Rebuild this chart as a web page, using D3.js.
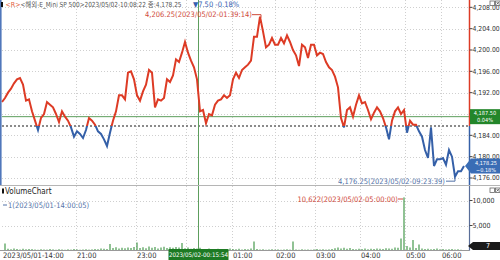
<!DOCTYPE html>
<html>
<head>
<meta charset="utf-8">
<script src="https://cdn.jsdelivr.net/npm/d3@7"></script>
<style>
  body { margin: 0; background: #fff; }
  svg { display: block; font-family: "Liberation Sans Narrow", "DejaVu Sans Condensed", "Noto Sans CJK KR", sans-serif; }
</style>
</head>
<body>
<svg id="chart" width="500" height="260"></svg>
<script>
// tick chart of E-mini S&P 500, one sample every few ticks
var prices = [
  4190.25, 4191, 4192, 4192.75, 4193.75, 4194.5, 4194.75, 4193.5, 4190.5, 4190.75,
  4188.5, 4186.75, 4185, 4187.25, 4188, 4190.25, 4189.75, 4189.25, 4188, 4186.5,
  4188.5, 4187.5, 4186.75, 4185.5, 4183.75, 4184.75, 4184.25, 4183.5, 4185, 4187.25,
  4186.75, 4186, 4184.75, 4184.25, 4183.25, 4182, 4184.5, 4186.75, 4188.5, 4191.5,
  4191.5, 4190.75, 4195.75, 4196, 4194.5, 4191.5, 4190.5, 4192.25, 4193.5, 4196.25,
  4195.75, 4189.25, 4190.75, 4190.5, 4191, 4194.5, 4194, 4195.25, 4198.25, 4197.75,
  4199.5, 4201.5, 4199.5, 4198, 4196.75, 4194.5, 4188.5, 4188.75, 4186.25, 4188,
  4187.75, 4189.75, 4190.5, 4190.75, 4191.5, 4191, 4191.5, 4194.5, 4195.75, 4194.75,
  4196.25, 4196.75, 4197.25, 4198, 4202.5, 4202.5, 4206.25, 4203.5, 4200.5, 4201,
  4202.25, 4201, 4201, 4202.25, 4201.25, 4202.75, 4201.5, 4200, 4199, 4197,
  4201, 4200.5, 4198.5, 4201, 4201, 4199, 4199.5, 4199.25, 4197.75, 4196.75,
  4196.25, 4195, 4193, 4187.25, 4185.5, 4188.75, 4189.25, 4187.5, 4189.75, 4191.5,
  4190, 4190.25, 4188.75, 4187, 4188.25, 4189.25, 4188.5, 4187.25, 4185.5, 4183.25,
  4186.75, 4188.5, 4189.25, 4188, 4188.75, 4184.5, 4186.75, 4186, 4186, 4184.75,
  4183.75, 4181.25, 4179.75, 4185.5, 4178.25, 4179.5, 4179.5, 4179.75, 4178.5, 4181.25,
  4180, 4176.25, 4177.25, 4177.25, 4178.25
];
var volumes = [
  1, 1400, 350, 250, 400, 300, 200, 350, 250, 300,
  280, 200, 150, 250, 200, 180, 300, 220, 150, 260,
  200, 150, 240, 180, 300, 220, 160, 200, 250, 180,
  220, 300, 260, 400, 350, 300, 1300, 500, 650, 400,
  550, 450, 600, 500, 700, 1600, 500, 650, 450, 800,
  550, 700, 400, 600, 750, 500, 650, 550, 700, 600,
  1500, 450, 600, 350, 500, 400, 550, 300, 250, 400,
  300, 200, 350, 250, 300, 200, 400, 300, 250, 350,
  200, 300, 250, 400, 1800, 300, 200, 250, 150, 200,
  250, 180, 220, 150, 200, 250, 180, 1800, 200, 150,
  250, 180, 200, 150, 220, 300, 200, 250, 180, 220,
  300, 450, 600, 400, 550, 350, 500, 300, 250, 350,
  300, 400, 250, 350, 300, 400, 350, 300, 450, 400,
  350, 600, 550, 2400, 10622, 900, 600, 2100, 500, 1200,
  400, 300, 350, 250, 300, 400, 250, 300, 200, 250,
  300, 200, 250, 150, 7
];
var priceTicks = [4208, 4204, 4200, 4196, 4192, 4188, 4184, 4180, 4176];
var volTicks = [10000, 5000];
var timeLabels = ["2023/05/01-14:00", "21:00", "23:00", "00:00", "01:00", "02:00", "03:00", "04:00", "05:00", "06:00"];
var timeIdx = [0, 24.67, 44.67, 61.33, 76.67, 91, 104.33, 119.33, 134.33, 146.33];
var refPrice = 4185.75;       // previous close
var crossIdx = 65.33, crossPrice = 4187.50, crossTime = "2023/05/02-00:15:54";
var maxLabel = "4,206.25(2023/05/02-01:39:14)";
var minLabel = "4,176.25(2023/05/02-09:23:39)";
var volMaxLabel = "10,622(2023/05/02-05:00:00)";
var volMinLabel = "1(2023/05/01-14:00:05)";

var red = "#dd3b25", blue = "#3560a8", green = "#5d9e5d", dkGreen = "#23862a";

var svg = d3.select("#chart");

var x = d3.scaleLinear().domain([0, prices.length - 1]).range([2, 464]);
var y = d3.scaleLinear().domain([4176, 4200]).range([178, 50]);
var yv = d3.scaleLinear().domain([0, 10000]).range([250.5, 200.5]);

var mainBot = 185, volBot = 250.5, axisX = 469.5;
var yRef = y(refPrice);
var yc = y(crossPrice);

// grid
var grid = svg.append("g").attr("stroke", "#cfcfcf").attr("stroke-dasharray", "1,2");
priceTicks.forEach(function (t) {
  grid.append("line").attr("x1", 2).attr("x2", axisX).attr("y1", Math.round(y(t)) + 0.5).attr("y2", Math.round(y(t)) + 0.5);
});
volTicks.forEach(function (t) {
  grid.append("line").attr("x1", 2).attr("x2", axisX).attr("y1", Math.round(yv(t)) + 0.5).attr("y2", Math.round(yv(t)) + 0.5);
});
timeIdx.slice(1).forEach(function (t) {
  var gx = Math.round(x(t)) + 0.5;
  grid.append("line").attr("x1", gx).attr("x2", gx).attr("y1", 0).attr("y2", volBot);
});

// reference line
svg.append("line").attr("x1", 2).attr("x2", axisX).attr("y1", yRef).attr("y2", yRef)
  .attr("stroke", "#666").attr("stroke-width", 1.3).attr("stroke-dasharray", "2,2");

// crosshair
svg.append("line").attr("x1", 2).attr("x2", axisX).attr("y1", yc).attr("y2", yc)
  .attr("stroke", green).attr("stroke-width", 1);
svg.append("line").attr("x1", Math.round(x(crossIdx)) + 0.5).attr("x2", Math.round(x(crossIdx)) + 0.5)
  .attr("y1", 0).attr("y2", volBot).attr("stroke", green).attr("stroke-width", 1);

// price line split at reference price
var defs = svg.append("defs");
defs.append("clipPath").attr("id", "clipUp").append("rect")
  .attr("x", 0).attr("y", 0).attr("width", axisX).attr("height", yRef);
defs.append("clipPath").attr("id", "clipDn").append("rect")
  .attr("x", 0).attr("y", yRef).attr("width", axisX).attr("height", mainBot - yRef);

var line = d3.line().x(function (d, i) { return x(i); }).y(function (d) { return y(d); });
[["clipUp", red], ["clipDn", blue]].forEach(function (c) {
  svg.append("path").datum(prices).attr("d", line)
    .attr("fill", "none").attr("stroke", c[1]).attr("stroke-width", 2)
    .attr("stroke-linejoin", "miter").attr("clip-path", "url(#" + c[0] + ")");
});

// volume bars
svg.append("g").selectAll("rect").data(volumes).enter().append("rect")
  .attr("x", function (d, i) { return x(i) - 0.5; })
  .attr("width", 1)
  .attr("y", function (d) { return yv(d); })
  .attr("height", function (d) { return volBot - yv(d); })
  .attr("fill", dkGreen);

// separators and axes
svg.append("line").attr("x1", 0).attr("x2", 500).attr("y1", mainBot + 0.5).attr("y2", mainBot + 0.5).attr("stroke", "#b5b5b5");
svg.append("line").attr("x1", 0).attr("x2", axisX).attr("y1", volBot).attr("y2", volBot).attr("stroke", "#999");
svg.append("line").attr("x1", 0.8).attr("x2", 0.8).attr("y1", 0).attr("y2", mainBot).attr("stroke", "#5077bb").attr("stroke-width", 1.6);
svg.append("line").attr("x1", axisX).attr("x2", axisX).attr("y1", 0).attr("y2", yRef).attr("stroke", red).attr("stroke-width", 1.5);
svg.append("line").attr("x1", axisX).attr("x2", axisX).attr("y1", yRef).attr("y2", mainBot).attr("stroke", blue).attr("stroke-width", 1.5);
svg.append("line").attr("x1", axisX).attr("x2", axisX).attr("y1", mainBot + 1).attr("y2", volBot).attr("stroke", "#5a6e98").attr("stroke-width", 1.2);

var fmt = d3.format(",.2f");
priceTicks.forEach(function (t) {
  svg.append("line").attr("x1", axisX).attr("x2", axisX + 3).attr("y1", y(t)).attr("y2", y(t)).attr("stroke", "#444");
  if (Math.abs(y(t) - yc) < 8) return;   // covered by the crosshair price box
  svg.append("text").attr("x", axisX + 3).attr("y", y(t)).attr("dy", "0.35em")
    .attr("font-size", 6.8).attr("fill", "#333").text(fmt(t));
});
volTicks.forEach(function (t) {
  svg.append("line").attr("x1", axisX).attr("x2", axisX + 3).attr("y1", yv(t)).attr("y2", yv(t)).attr("stroke", "#444");
  svg.append("text").attr("x", axisX + 3).attr("y", yv(t)).attr("dy", "0.35em")
    .attr("font-size", 7).attr("fill", "#333").text(d3.format(",")(t));
});

// time axis labels
timeLabels.forEach(function (l, i) {
  if (l === "00:00") return;   // hidden behind the crosshair box
  svg.append("text").attr("x", Math.round(x(timeIdx[i])) + 1).attr("y", 255).attr("dy", "0.35em")
    .attr("font-size", 7.5).attr("fill", "#333").text(l);
});

// crosshair time box
var cx = Math.round(x(crossIdx)) + 0.5;
svg.append("rect").attr("x", cx - 30).attr("y", 249).attr("width", 60).attr("height", 11).attr("fill", "#1d7a23");
svg.append("text").attr("x", cx).attr("y", 255).attr("dy", "0.35em").attr("text-anchor", "middle")
  .attr("font-size", 6.2).attr("fill", "#fff").text(crossTime);

// price boxes on the axis
var pct = d3.format(".2f");
svg.append("rect").attr("x", 470).attr("y", yc - 7.5).attr("width", 30).attr("height", 15).attr("fill", dkGreen);
svg.append("text").attr("x", 485).attr("y", yc - 3.6).attr("dy", "0.35em").attr("text-anchor", "middle")
  .attr("font-size", 5.6).attr("fill", "#fff").text(fmt(crossPrice));
svg.append("text").attr("x", 485).attr("y", yc + 3.7).attr("dy", "0.35em").attr("text-anchor", "middle")
  .attr("font-size", 5.6).attr("fill", "#fff").text(pct((crossPrice - refPrice) / refPrice * 100) + "%");

var last = prices[prices.length - 1], yl = y(last);
svg.append("path").attr("d", "M465," + yl + "L471," + (yl - 7.5) + "H500V" + (yl + 7.5) + "H471Z").attr("fill", "#3a6db5");
svg.append("text").attr("x", 486).attr("y", yl - 3.1).attr("dy", "0.35em").attr("text-anchor", "middle")
  .attr("font-size", 5.5).attr("fill", "#fff").text(fmt(last));
svg.append("text").attr("x", 486).attr("y", yl + 3.9).attr("dy", "0.35em").attr("text-anchor", "middle")
  .attr("font-size", 5.5).attr("fill", "#fff").text(pct((last - refPrice) / refPrice * 100) + "%");

var lastV = volumes[volumes.length - 1], ylv = 246;
svg.append("path").attr("d", "M468," + ylv + "L473," + (ylv - 4) + "H500V" + (ylv + 4) + "H473Z").attr("fill", "#1a1a1a");
svg.append("text").attr("x", 488).attr("y", ylv).attr("dy", "0.35em").attr("text-anchor", "middle")
  .attr("font-size", 7).attr("fill", "#fff").text(lastV);

// max / min annotations
var iMax = d3.maxIndex(prices), iMin = d3.minIndex(prices);
var mx = x(iMax), my = y(prices[iMax]);
svg.append("text").attr("x", mx - 8).attr("y", my - 2).attr("dy", "0.35em").attr("text-anchor", "end")
  .attr("font-size", 7.5).attr("fill", "#cf4a3a").text(maxLabel);
svg.append("path").attr("d", "M" + (mx - 8) + "," + (my - 2) + "H" + (mx + 1) + "V" + (my + 1))
  .attr("fill", "none").attr("stroke", "#cf4a3a");
var nx = x(iMin), ny = y(prices[iMin]);
svg.append("text").attr("x", nx - 10).attr("y", ny + 4.5).attr("dy", "0.35em").attr("text-anchor", "end")
  .attr("font-size", 7.5).attr("fill", "#5373a8").text(minLabel);
svg.append("path").attr("d", "M" + (nx - 9) + "," + (ny + 4.5) + "H" + nx + "V" + (ny + 1))
  .attr("fill", "none").attr("stroke", "#5373a8");

var iVmax = d3.maxIndex(volumes), vx = x(iVmax);
svg.append("text").attr("x", vx - 6).attr("y", 199).attr("dy", "0.35em").attr("text-anchor", "end")
  .attr("font-size", 7.5).attr("fill", "#cf4a3a").text(volMaxLabel);
svg.append("path").attr("d", "M" + (vx - 6) + ",199H" + (vx - 1))
  .attr("fill", "none").attr("stroke", "#cf4a3a");

// volume panel header
svg.append("rect").attr("x", 2).attr("y", 188.5).attr("width", 2).attr("height", 5).attr("fill", "#111");
svg.append("text").attr("x", 5).attr("y", 191.5).attr("dy", "0.35em").attr("font-size", 8).attr("fill", "#222").text("VolumeChart");
svg.append("line").attr("x1", 3).attr("x2", 7).attr("y1", 205).attr("y2", 205).attr("stroke", "#5373a8");
svg.append("text").attr("x", 8).attr("y", 205).attr("dy", "0.35em").attr("font-size", 7.5).attr("fill", "#5373a8").text(volMinLabel);

// title line
svg.append("rect").attr("x", 1).attr("y", 2).attr("width", 2).attr("height", 5).attr("fill", "#111");
svg.append("text").attr("x", 5.5).attr("y", 4.5).attr("dy", "0.35em").attr("font-size", 7).attr("fill", "#e2603a").text("<R>");
svg.append("text").attr("x", 20.5).attr("y", 4.5).attr("dy", "0.35em").attr("font-size", 7).attr("fill", "#555")
  .attr("textLength", 161).attr("lengthAdjust", "spacingAndGlyphs")
  .text("<해외-E_Mini SP 500>2023/05/02-10:08:22 종:4,178.25");
svg.append("text").attr("x", 193).attr("y", 4.5).attr("dy", "0.35em").attr("font-size", 7.5).attr("fill", "#3560b0")
  .text("▼7.50  -0.18%");

// window buttons
[[490, 1], [490, 188]].forEach(function (p) {
  svg.append("rect").attr("x", p[0]).attr("y", p[1]).attr("width", 4.5).attr("height", 4.5)
    .attr("fill", "#fff").attr("stroke", "#666").attr("stroke-width", 0.8);
  svg.append("rect").attr("x", p[0] + 5.5).attr("y", p[1]).attr("width", 4.5).attr("height", 4.5)
    .attr("fill", "#fff").attr("stroke", "#666").attr("stroke-width", 0.8);
  svg.append("path").attr("d", "M" + (p[0] + 6.5) + "," + (p[1] + 1) + "l2.5,2.5M" + (p[0] + 9) + "," + (p[1] + 1) + "l-2.5,2.5")
    .attr("stroke", "#444").attr("stroke-width", 0.7);
});
</script>
</body>
</html>
